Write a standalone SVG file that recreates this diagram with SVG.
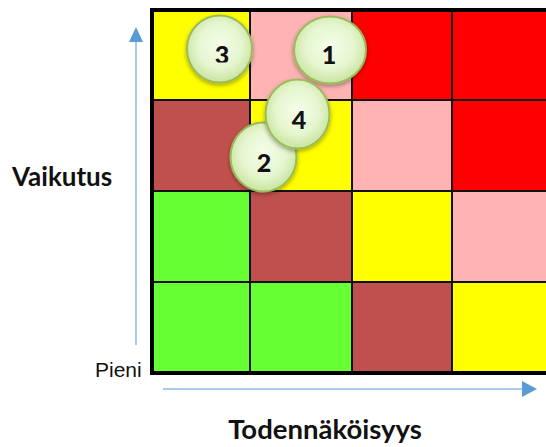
<svg xmlns="http://www.w3.org/2000/svg" width="546" height="447" viewBox="0 0 546 447">
<defs>
<style>
.y{fill:#FFFF00}.p{fill:#FFB3B3}.r{fill:#FF0000}.b{fill:#C0504D}.g{fill:#66FF33}
.gl{stroke:#111;stroke-width:2;fill:none}
.ax{stroke:#8dbbe6;stroke-width:1.6;fill:none}
.ah{fill:#5b9bd5}
.bub{fill:url(#bg);stroke:#9bbb59;stroke-width:2;filter:url(#sh)}
.num{font-family:Lato,"Open Sans",sans-serif;font-weight:900;font-size:25px;fill:#111;text-anchor:middle}
.lbl{font-family:Lato,"Open Sans",sans-serif;font-weight:bold;font-size:26px;fill:#111}
</style>
<radialGradient id="bg" cx="0.5" cy="0.45" r="0.55">
<stop offset="0" stop-color="#f5fdea"/>
<stop offset="0.6" stop-color="#e6f6d0"/>
<stop offset="1" stop-color="#c8e4a0"/>
</radialGradient>
<filter id="sh" x="-30%" y="-30%" width="160%" height="160%">
<feDropShadow dx="0" dy="2" stdDeviation="2" flood-color="#000" flood-opacity="0.35"/>
</filter>
<clipPath id="c3"><rect x="180" y="0" width="80" height="62.5"/></clipPath>
</defs>
<rect width="546" height="447" fill="#fff"/>
<g id="grid">
<rect class="y" x="152" y="10" width="98" height="90"/>
<rect class="p" x="250" y="10" width="102" height="90"/>
<rect class="r" x="352" y="10" width="100" height="90"/>
<rect class="r" x="452" y="10" width="94" height="90"/>
<rect class="b" x="152" y="100" width="98" height="91"/>
<rect class="y" x="250" y="100" width="102" height="91"/>
<rect class="p" x="352" y="100" width="100" height="91"/>
<rect class="r" x="452" y="100" width="94" height="91"/>
<rect class="g" x="152" y="191" width="98" height="91"/>
<rect class="b" x="250" y="191" width="102" height="91"/>
<rect class="y" x="352" y="191" width="100" height="91"/>
<rect class="p" x="452" y="191" width="94" height="91"/>
<rect class="g" x="152" y="282" width="98" height="91"/>
<rect class="g" x="250" y="282" width="102" height="91"/>
<rect class="b" x="352" y="282" width="100" height="91"/>
<rect class="y" x="452" y="282" width="94" height="91"/>
<path class="gl" d="M250 10V373M352 10V373M452 10V373M152 100H546M152 191H546M152 282H546"/>
<path d="M548 10H152V373H548" fill="none" stroke="#000" stroke-width="4"/>
</g>
<g id="connectors">
<line class="ax" x1="136" y1="345" x2="136" y2="40"/>
<polygon class="ah" points="136,27 129,42 143,42"/>
<line class="ax" x1="163" y1="389" x2="524" y2="389"/>
<polygon class="ah" points="537,389 522,381 522,397"/>
</g>
<g id="labels">
<text class="lbl" x="12" y="186">Vaikutus</text>
<text class="lbl" x="325" y="439" text-anchor="middle" style="font-size:27.5px">Todennäköisyys</text>
<text x="95" y="377" font-family="Liberation Sans,Arial,sans-serif" font-size="21" fill="#111">Pieni</text>
</g>
<g id="node3">
<ellipse class="bub" cx="219.5" cy="49" rx="32.5" ry="33.5"/>
<text class="num" x="222" y="64" clip-path="url(#c3)">3</text>
</g>
<g id="node1">
<ellipse class="bub" cx="330" cy="50" rx="36" ry="33.5"/>
<text class="num" x="329" y="64">1</text>
</g>
<g id="node2">
<ellipse class="bub" cx="263.5" cy="157" rx="33" ry="34.5"/>
<text class="num" x="264" y="172">2</text>
</g>
<g id="node4">
<ellipse class="bub" cx="297.5" cy="114" rx="32" ry="34.5"/>
<text class="num" x="299" y="129">4</text>
</g>
</svg>
